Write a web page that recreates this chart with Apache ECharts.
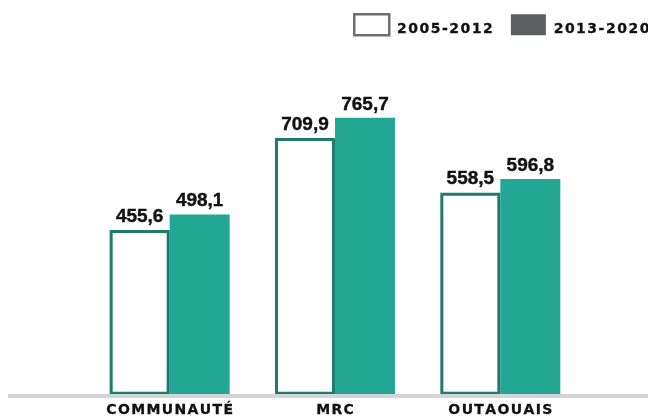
<!DOCTYPE html>
<html>
<head>
<meta charset="utf-8">
<script src="https://cdn.jsdelivr.net/npm/echarts@6/dist/echarts.min.js"></script>
<style>
  html, body { margin: 0; padding: 0; background: #fff; }
  #chart { width: 648px; height: 418px; }
</style>
</head>
<body>
<div id="chart"></div>
<script>
// Regions compared across two periods
const categories = ['COMMUNAUTÉ', 'MRC', 'OUTAOUAIS'];
const seriesNames = ['2005-2012', '2013-2020'];
const values2005 = [455.6, 709.9, 558.5];
const values2013 = [498.1, 765.7, 596.8];

const TEAL = '#23a694';
const DARK_TEAL = '#1f7b6d';
const INK = '#111';
const FONT = '"DejaVu Sans", sans-serif';
const VALUE_FONT = '"Liberation Sans", Arial, sans-serif';

// Tracked (letter-spaced) text: each character becomes its own rich fragment
const spaced = s => Array.from(s).map(ch => '{c|' + ch + '}').join('');

const chart = echarts.init(document.getElementById('chart'), null, { renderer: 'canvas' });

const labelStyle = {
  show: true,
  position: 'top',
  distance: 4,
  color: INK,
  fontFamily: VALUE_FONT,
  fontWeight: 'bold',
  fontSize: 19,
  textBorderColor: INK,
  textBorderWidth: 0.4,
  formatter: p => p.value.toFixed(1).replace('.', ',')
};

chart.setOption({
  animation: false,
  backgroundColor: '#fff',
  grid: { left: 87, right: 65, top: 33, bottom: 23 },
  legend: {
    left: 353,
    top: 13,
    width: 400,
    padding: 0,
    icon: 'rect',
    itemWidth: 35,
    itemHeight: 21,
    itemGap: 18,
    formatter: name => spaced(name),
    textStyle: {
      padding: [9, 0, 0, 2],
      rich: {
        c: {
          color: INK, fontFamily: FONT, fontWeight: 'bold', fontSize: 14,
          textBorderColor: INK, textBorderWidth: 0.3,
          padding: [0, 0.75, 0, 0.75]
        }
      }
    },
    data: [
      { name: seriesNames[0], itemStyle: { color: '#fff', borderColor: '#6b6e6f', borderWidth: 2.5 } },
      { name: seriesNames[1], itemStyle: { color: '#5b5f60', borderWidth: 0 } }
    ]
  },
  xAxis: {
    type: 'category',
    data: categories,
    axisLine: { show: false },
    axisTick: { show: false },
    axisLabel: {
      interval: 0,
      margin: 9,
      formatter: v => spaced(v),
      rich: {
        c: {
          color: INK, fontFamily: FONT, fontWeight: 'bold', fontSize: 14,
          textBorderColor: INK, textBorderWidth: 0.3,
          padding: [0, 0.68, 0, 0.68]
        }
      }
    }
  },
  yAxis: {
    type: 'value',
    min: 0,
    max: 1000,
    show: false,
    splitLine: { show: false }
  },
  graphic: [{
    type: 'rect',
    shape: { x: 8, y: 394, width: 640, height: 4 },
    style: { fill: '#d3d4d4' },
    z: 10
  }],
  series: [
    {
      name: seriesNames[0],
      type: 'bar',
      data: values2005,
      barWidth: 60,
      barGap: '0%',
      z: 3,
      itemStyle: { color: '#fff', borderColor: DARK_TEAL, borderWidth: 3 },
      label: labelStyle
    },
    {
      name: seriesNames[1],
      type: 'bar',
      data: values2013,
      barWidth: 60,
      z: 2,
      itemStyle: { color: TEAL },
      label: labelStyle
    }
  ]
});
</script>
</body>
</html>
